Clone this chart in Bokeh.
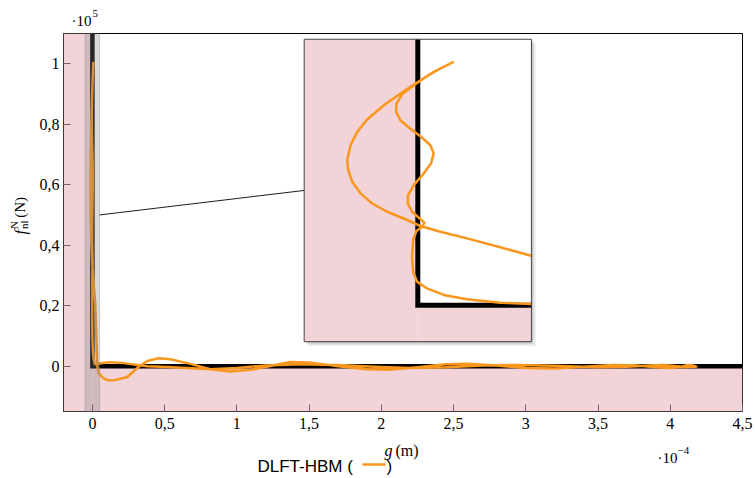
import numpy as np
from bokeh.plotting import figure
from bokeh.models import Range1d, FixedTicker, Label
from bokeh.layouts import column, row
from bokeh.embed import file_html
from bokeh.resources import INLINE

# ---------------- data (g in 1e-4 m, f_nl^N in 1e5 N) ----------------
# branch 1: from the top (max force) through the big left swing, then the wavy lane
g_branch1 = [0.00631, 0.00280, -0.00042, -0.00306, -0.00598, -0.00892, -0.01067, -0.01184,
             -0.01243, -0.01225, -0.01155, -0.01008, -0.00803, -0.00540, -0.00247, 0.00046,
             0.00397, 0.00866, 0.01451, 0.01996,
             0.026, 0.030, 0.034, 0.045, 0.076, 0.11, 0.159, 0.242, 0.318, 0.381, 0.457, 0.540,
             0.657, 0.817,
             0.95, 1.10, 1.25, 1.37, 1.50, 1.70, 1.90, 2.05, 2.25, 2.45, 2.60, 2.80,
             3.00, 3.20, 3.40, 3.60, 3.75, 3.90, 4.00, 4.08, 4.12, 4.16, 4.18]
f_branch1 = [1.006, 0.965, 0.917, 0.876, 0.827, 0.768, 0.717, 0.662,
             0.600, 0.559, 0.511, 0.463, 0.421, 0.387, 0.359, 0.328,
             0.304, 0.277, 0.240, 0.205,
             0.120, 0.050, 0.000, -0.025, -0.040, -0.047, -0.046, -0.036, -0.003, 0.017, 0.026, 0.023,
             0.010, -0.010,
             -0.018, -0.012, 0.002, 0.014, 0.012, 0.000, -0.010, -0.012, -0.004, 0.006, 0.008, 0.002,
             -0.006, -0.008, -0.002, 0.004, 0.003, -0.004, -0.006, -0.002, 0.004, 0.002, -0.002]
# branch 2: from the far end back along the flat lane, then up the wiggly inner path
g_branch2 = [4.15, 4.10, 4.05, 3.95, 3.85, 3.70, 3.50, 3.20, 2.95, 2.70, 2.45, 2.20,
             1.95, 1.70, 1.45, 1.20, 1.00, 0.82, 0.519, 0.381, 0.215, 0.111, 0.05,
             0.01996, 0.01451, 0.00866, 0.00456, 0.00163, -0.00013, -0.00083, -0.00101, -0.00083,
             -0.00025, 0.00081, 0.00116, 0.00034, -0.00101, -0.00177, -0.00171, -0.00071, 0.00104,
             0.00233, 0.00280, 0.00221, 0.00046, -0.00159, -0.00306, -0.00382, -0.00376, -0.00276,
             -0.00071, 0.00163, 0.00397, 0.00631]
f_branch2 = [-0.002, -0.004, 0.000, 0.004, 0.002, -0.002, -0.004, 0.001, 0.004, 0.002, -0.004, -0.006,
             -0.002, 0.004, 0.006, 0.002, -0.006, -0.010, -0.003, 0.000, 0.010, 0.013, 0.009,
             0.006, 0.011, 0.025, 0.043, 0.070, 0.098, 0.139, 0.201, 0.270,
             0.307, 0.325, 0.342, 0.359, 0.387, 0.421, 0.456, 0.497, 0.545,
             0.587, 0.628, 0.662, 0.699, 0.735, 0.765, 0.800, 0.834, 0.873,
             0.910, 0.947, 0.979, 1.006]

x_ticks = [0, 0.5, 1, 1.5, 2, 2.5, 3, 3.5, 4, 4.5]
x_tick_labels = ["0", "0,5", "1", "1,5", "2", "2,5", "3", "3,5", "4", "4,5"]
y_ticks = [0, 0.2, 0.4, 0.6, 0.8, 1]
y_tick_labels = ["0", "0,2", "0,4", "0,6", "0,8", "1"]

# ---------------- layout constants ----------------
XMIN, XMAX = -0.2, 4.5
YMIN, YMAX = -0.15, 1.1
WALL_G, WALL_F = 0.0, 0.0
BAND_X = (-0.05, 0.05)                      # highlighted g-band in the main axes
ZOOM_X = (-0.02, 0.02)                      # g-window shown in the inset
INSET = (1.466, 3.039, 0.081, 1.081)        # inset placement in main data units (x0, x1, y0, y1)

PAGE_W, PAGE_H = 755, 478
TOP_H = 32
LEFT_W = 36
BL, BT, BR, BB = 26, 1, 13, 27              # borders of the main figure
FRAME_W, FRAME_H = 680, 378
MAIN_W = BL + FRAME_W + BR
MAIN_H = BT + FRAME_H + BB
BOT_H = PAGE_H - TOP_H - MAIN_H

PINK = "#f2d3d8"
ORANGE = "#f8961e"
SERIF = "Liberation Serif"
SANS = "Liberation Sans"

g_all = np.array(g_branch1 + g_branch2)
f_all = np.array(f_branch1 + f_branch2)

p = figure(width=MAIN_W, height=MAIN_H, x_range=Range1d(XMIN, XMAX), y_range=Range1d(YMIN, YMAX),
           output_backend="svg", toolbar_location=None,
           min_border_left=BL, min_border_top=BT, min_border_right=BR, min_border_bottom=BB)
p.background_fill_color = "white"
p.border_fill_color = "white"
p.outline_line_color = "black"
p.outline_line_width = 1
p.grid.visible = False

for ax in (p.xaxis[0], p.yaxis[0]):
    ax.axis_line_color = None
    ax.major_tick_in = 7
    ax.major_tick_out = 0
    ax.minor_tick_in = 0
    ax.minor_tick_out = 0
    ax.major_tick_line_color = "#7d6168"
    ax.major_label_text_font = SERIF
    ax.major_label_text_font_size = "16px"
    ax.major_label_text_color = "black"
p.xaxis.ticker = FixedTicker(ticks=x_ticks)
p.yaxis.ticker = FixedTicker(ticks=y_ticks)
p.xaxis.major_label_overrides = {t: s for t, s in zip(x_ticks, x_tick_labels)}
p.yaxis.major_label_overrides = {t: s for t, s in zip(y_ticks, y_tick_labels)}
p.xaxis.major_label_standoff = 6
p.yaxis.major_label_standoff = 4

# contact regions
p.quad(left=XMIN, right=WALL_G, bottom=YMIN, top=YMAX, fill_color=PINK, line_color=None)
p.quad(left=WALL_G, right=XMAX, bottom=YMIN, top=WALL_F, fill_color=PINK, line_color=None)
# rigid wall
p.line([WALL_G, WALL_G, XMAX], [YMAX, WALL_F, WALL_F], line_color="black", line_width=4.5,
       line_join="miter")
# response
p.line(g_all, f_all, line_color=ORANGE, line_width=2.5, line_join="round")
# highlighted band
p.quad(left=BAND_X[0], right=BAND_X[1], bottom=YMIN, top=YMAX, fill_color="gray", fill_alpha=0.3,
       line_color="gray", line_alpha=0.35, line_width=1)

# connector
p.line([BAND_X[1], INSET[0]], [0.5, (INSET[2] + INSET[3]) / 2], line_color="black", line_width=0.9)

# ---------------- inset (drawn through extra ranges) ----------------
sx = (INSET[1] - INSET[0]) / (ZOOM_X[1] - ZOOM_X[0])
sy = (INSET[3] - INSET[2]) / (YMAX - YMIN)
p.extra_x_ranges = {"ix": Range1d(ZOOM_X[0] + (XMIN - INSET[0]) / sx, ZOOM_X[0] + (XMAX - INSET[0]) / sx)}
p.extra_y_ranges = {"iy": Range1d(YMIN + (YMIN - INSET[2]) / sy, YMIN + (YMAX - INSET[2]) / sy)}

# shadow
px_x = (XMAX - XMIN) / FRAME_W
px_y = (YMAX - YMIN) / FRAME_H
for k, a in ((1.5, 0.25), (3.0, 0.18), (4.5, 0.10)):
    p.quad(left=INSET[0] + k * px_x, right=INSET[1] + k * px_x,
           bottom=INSET[2] - k * px_y, top=INSET[3] - k * px_y,
           fill_color="gray", fill_alpha=a, line_color=None)

kw = dict(x_range_name="ix", y_range_name="iy")
p.quad(left=ZOOM_X[0], right=ZOOM_X[1], bottom=YMIN, top=YMAX, fill_color="white", line_color=None, **kw)
p.quad(left=ZOOM_X[0], right=WALL_G, bottom=YMIN, top=YMAX, fill_color=PINK, line_color=None, **kw)
p.quad(left=WALL_G, right=ZOOM_X[1], bottom=YMIN, top=WALL_F, fill_color=PINK, line_color=None, **kw)
p.line([WALL_G, WALL_G, ZOOM_X[1]], [YMAX, WALL_F, WALL_F], line_color="black", line_width=5,
       line_join="miter", **kw)
inside = (g_all >= ZOOM_X[0]) & (g_all <= ZOOM_X[1] + 1e-9)
p.line(g_all, np.where(inside, f_all, np.nan), line_color=ORANGE, line_width=2.5, line_join="round", **kw)
p.quad(left=ZOOM_X[0], right=ZOOM_X[1], bottom=YMIN, top=YMAX, fill_color=None, line_color="#444444",
       line_width=1, **kw)


# ---------------- text strips (their ranges are page pixels) ----------------
def strip(w, h, x0, y0):
    s = figure(width=w, height=h, x_range=Range1d(x0, x0 + w), y_range=Range1d(y0 + h, y0),
               output_backend="svg", toolbar_location=None, min_border=0,
               x_axis_type=None, y_axis_type=None)
    s.outline_line_color = None
    s.grid.visible = False
    s.background_fill_color = "white"
    s.border_fill_color = "white"
    return s


def lab(fig, x, y, text, size="16px", style="normal", font=SERIF, angle=0):
    fig.add_layout(Label(x=x, y=y, text=text, text_font=font, text_font_size=size,
                         text_font_style=style, text_align="left", text_baseline="alphabetic",
                         angle=angle, text_color="black"))


top = strip(PAGE_W, TOP_H, 0, 0)
lab(top, 71, 20, "·10", size="15px")
lab(top, 92, 13, "5", size="11px")

left = strip(LEFT_W, MAIN_H, 0, TOP_H)
ang = np.pi / 2
lab(left, 20, 248, "f", style="italic", angle=ang)
lab(left, 23, 242, "nl", size="11px", angle=ang)
lab(left, 13, 242, "N", size="11px", angle=ang)
lab(left, 19, 230, "(N)", size="15px", angle=ang)

bot = strip(PAGE_W, BOT_H, 0, TOP_H + MAIN_H)
lab(bot, 384, 450, "g", style="italic")
lab(bot, 395, 450, "(m)")
lab(bot, 657, 457, "·10", size="15px")
lab(bot, 677, 450, "−4", size="11px")
lab(bot, 257, 466, "DLFT-HBM (", size="17px", font=SANS)
lab(bot, 386, 466, ")", size="17px", font=SANS)
bot.line([362, 385], [464, 464], line_color=ORANGE, line_width=2.5)

layout = column(top, row(left, p), bot)
open("out.html", "w").write(file_html(layout, INLINE))
